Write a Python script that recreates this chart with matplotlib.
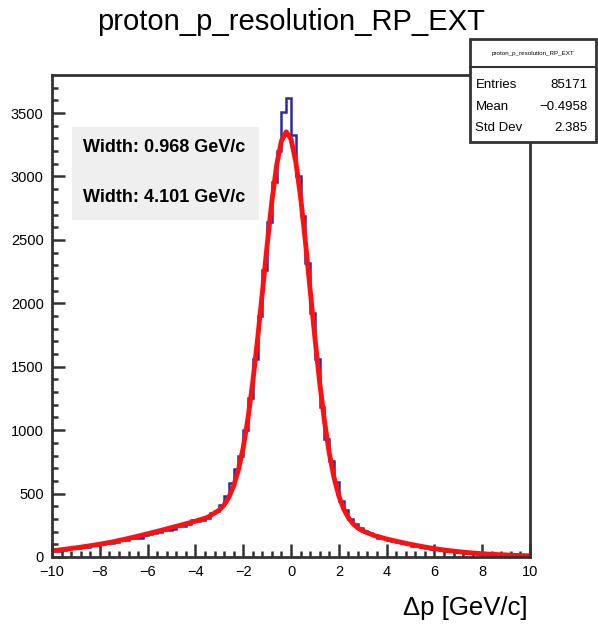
import numpy as np
import matplotlib
matplotlib.use('Agg')
from matplotlib import pyplot as plt
from matplotlib.patches import Rectangle
from matplotlib.lines import Line2D

# histogram: 100 bins on [-10, 10]
x_min, x_max, n_bins = -10, 10, 100
counts = [
    62, 50, 58, 66, 72, 70, 83, 80, 95, 92,
    104, 118, 112, 121, 140, 136, 149, 150, 150, 175,
    178, 190, 200, 212, 215, 222, 245, 248, 262, 290,
    285, 292, 310, 345, 365, 410, 480, 580, 690, 800,
    1000, 1250, 1560, 1900, 2260, 2640, 2960, 3200, 3510, 3620,
    3330, 3000, 2690, 2320, 1920, 1560, 1180, 930, 760, 590,
    440, 370, 300, 258, 225, 205, 190, 172, 150, 150,
    135, 126, 122, 108, 100, 90, 92, 80, 74, 66,
    60, 58, 50, 46, 40, 38, 34, 32, 28, 26,
    24, 22, 19, 20, 16, 16, 13, 14, 10, 11,
]

# fitted curve
fit_x = [-10, -9.5, -9, -8.5, -8, -7.5, -7, -6.5, -6, -5.5, -5, -4.5, -4, -3.5, -3,
         -2.8, -2.6, -2.4, -2.2, -2.0, -1.8, -1.6, -1.4, -1.2, -1.0, -0.8, -0.6, -0.4, -0.2,
         0, 0.2, 0.4, 0.6, 0.8, 1.0, 1.2, 1.4, 1.6, 1.8, 2.0, 2.2, 2.4, 2.6, 2.8, 3.0,
         3.5, 4, 4.5, 5, 5.5, 6, 6.5, 7, 7.5, 8, 8.5, 9, 9.5, 10]
fit_y = [48, 60, 72, 86, 101, 118, 138, 160, 183, 207, 232, 257, 282, 312, 370,
         411, 471, 560, 687, 862, 1094, 1380, 1715, 2083, 2456, 2805, 3091, 3281, 3352,
         3295, 3117, 2838, 2490, 2108, 1728, 1375, 1070, 820, 626, 482, 380, 310, 261, 228, 206,
         168, 142, 120, 100, 82, 66, 53, 42, 33, 26, 20, 16, 12, 9]

widths = ['Width: 0.968 GeV/c', 'Width: 4.101 GeV/c']
stats_name = 'proton_p_resolution_RP_EXT'
stats_rows = [('Entries', '85171'), ('Mean', '\u22120.4958'), ('Std Dev', '2.385')]

plt.rcParams['font.family'] = ['Liberation Sans', 'DejaVu Sans']

fig = plt.figure(figsize=(5.98, 6.25), dpi=100)
ax = fig.add_axes([0.087, 0.1088, 0.7993, 0.7712])

edges = np.linspace(x_min, x_max, n_bins + 1)
ax.stairs(counts, edges, color='#2a2aa8', linewidth=1.8)
ax.plot(fit_x, fit_y, color='#ff1010', linewidth=3.5, solid_capstyle='round')

ax.set_xlim(x_min, x_max)
ax.set_ylim(0, 3800)
ax.set_xticks(np.arange(-10, 11, 2))
ax.set_xticks(np.arange(-10, 10.01, 0.4), minor=True)
ax.set_yticks(np.arange(0, 3501, 500))
ax.set_yticks(np.arange(0, 3800, 100), minor=True)
ax.set_xticklabels(['\u221210', '\u22128', '\u22126', '\u22124', '\u22122', '0', '2', '4', '6', '8', '10'])
ax.tick_params(which='both', direction='in', top=False, right=False, width=1.8, color='#333333')
ax.tick_params(which='major', length=9.5, labelsize=10.5, pad=6)
ax.tick_params(which='minor', length=4.5)
for s in ax.spines.values():
    s.set_linewidth(2)
    s.set_color('#333333')

fig.text(0.487, 0.964, 'proton_p_resolution_RP_EXT', ha='center', va='center', fontsize=21)
fig.text(0.883, 0.027, '\u0394p [GeV/c]', ha='right', va='center', fontsize=18.5)

# width box
fig.patches.append(Rectangle((0.1204, 0.648), 0.3127, 0.1488, transform=fig.transFigure,
                             facecolor='#efefef', edgecolor='none', zorder=2))
fig.text(0.1388, 0.7632, widths[0], fontsize=13, fontweight='bold', va='center', zorder=3)
fig.text(0.1388, 0.6848, widths[1], fontsize=13, fontweight='bold', va='center', zorder=3)

# stats box
fig.patches.append(Rectangle((0.786, 0.7728), 0.211, 0.1648, transform=fig.transFigure,
                             facecolor='white', edgecolor='#333333', linewidth=2, zorder=5))
fig.lines.append(Line2D([0.786, 0.997], [0.8928, 0.8928], transform=fig.transFigure,
                        color='#333333', linewidth=1.5, zorder=6))
fig.text(0.8915, 0.915, stats_name, ha='center', va='center', fontsize=4.5, zorder=6)
for i, (k, v) in enumerate(stats_rows):
    yy = 0.864 - i * 0.0345
    fig.text(0.795, yy, k, ha='left', va='center', fontsize=9.5, zorder=6)
    fig.text(0.983, yy, v, ha='right', va='center', fontsize=9.5, zorder=6)

fig.savefig('out.png', dpi=100)
